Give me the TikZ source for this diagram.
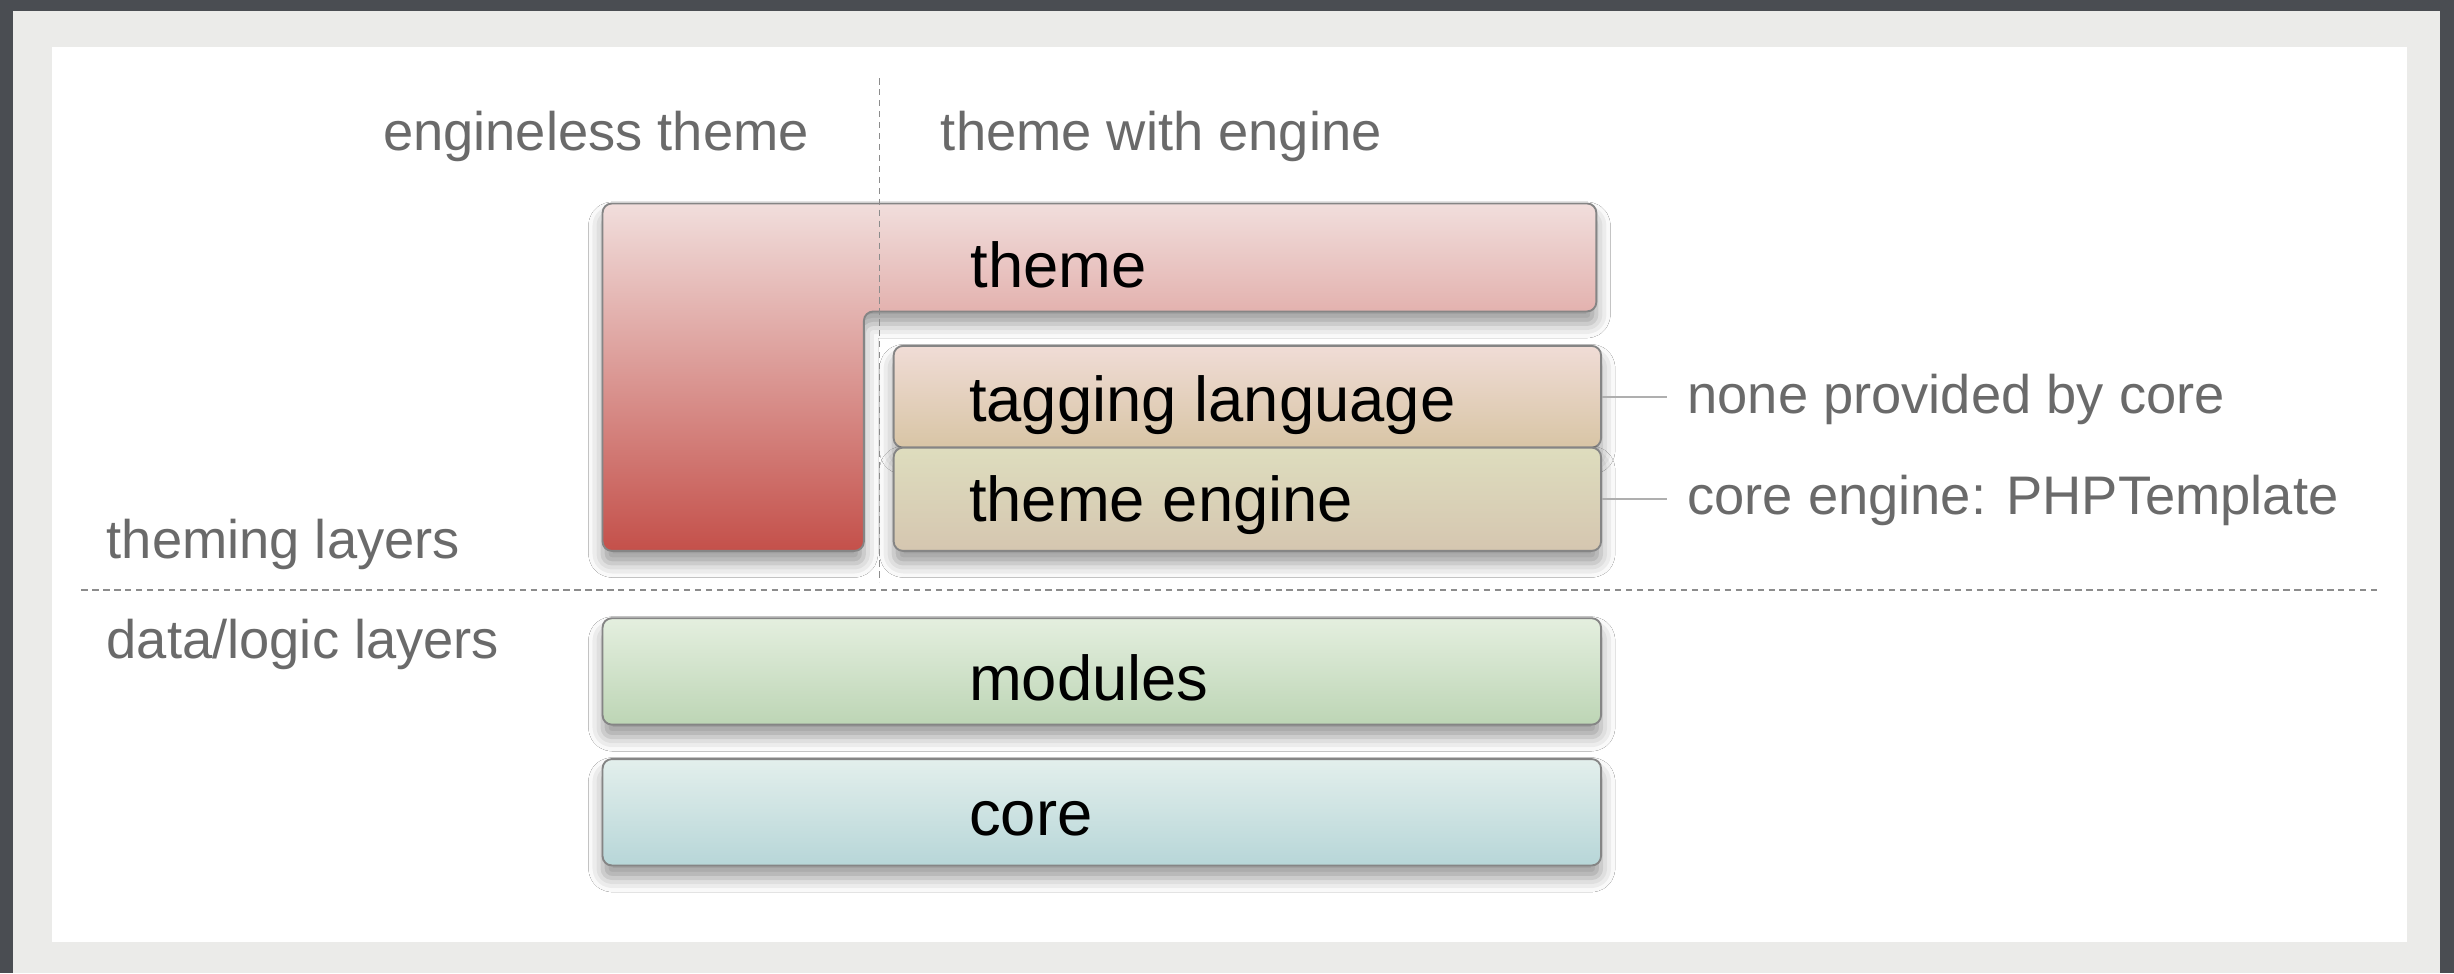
\documentclass[tikz,border=0pt]{standalone}
\usepackage{fontspec}
\setmainfont{Liberation Sans}
\usetikzlibrary{shadows.blur}
\definecolor{framedark}{HTML}{4A4D52}
\definecolor{framelight}{HTML}{EBEBE9}
\definecolor{boxline}{HTML}{858585}
\definecolor{lblgray}{HTML}{6A6A6A}
\definecolor{dashgray}{HTML}{8C8C8C}
\definecolor{leadgray}{HTML}{AFAFAF}
\definecolor{themetop}{HTML}{F1DEDC}
\definecolor{themebot}{HTML}{C4504A}
\definecolor{tagtop}{HTML}{F0DCD6}
\definecolor{tagbot}{HTML}{D8C5A5}
\definecolor{engtop}{HTML}{DEDDBE}
\definecolor{engbot}{HTML}{D5C6B0}
\definecolor{modtop}{HTML}{E4EFDF}
\definecolor{modbot}{HTML}{BDD5B5}
\definecolor{coretop}{HTML}{E3EFEC}
\definecolor{corebot}{HTML}{B7D6D8}
\begin{document}
\begin{tikzpicture}[x=1pt,y=-1pt,
  box/.style={draw=boxline, line width=1.2pt, rounded corners=6pt, inner sep=0pt,
    blur shadow={shadow xshift=0pt, shadow yshift=-8pt, shadow blur radius=9pt, shadow opacity=40}},
  lbl/.style={text=lblgray, font=\fontsize{34.7}{40}\selectfont, inner sep=0pt},
  btxt/.style={text=black, font=\fontsize{40.5}{48}\selectfont, inner sep=0pt},
  dashline/.style={draw=dashgray, line width=1pt, dash pattern=on 4pt off 3pt},
  leader/.style={draw=leadgray, line width=1pt},
]
\useasboundingbox (0,0) rectangle (1568,622);
% frames
\fill[framedark] (0,0) rectangle (1568,622);
\fill[framelight] (8,7) rectangle (1559,622);
\fill[white] (33,30) rectangle (1538,602);

% theme L-shape
\path[box, top color=themetop, bottom color=themebot]
  (385,130) -- (1020,130) -- (1020,199) -- (552,199) -- (552,352) -- (385,352) -- cycle;
\node[btxt, anchor=west] (themetxt) at (620,169) {theme};

% tagging language and theme engine
\node[box, top color=tagtop, bottom color=tagbot, minimum width=452pt, minimum height=65pt] (tag) at (797,253.5) {};
\node[box, top color=engtop, bottom color=engbot, minimum width=452pt, minimum height=66pt] (eng) at (797,319) {};
\node[btxt, anchor=west] (tagtxt) at (619,259) {tagging language};
\node[btxt, anchor=west] (engtxt) at (619,323) {theme engine};

% modules and core
\node[box, top color=modtop, bottom color=modbot, minimum width=638pt, minimum height=68pt] (mod) at (704,429) {};
\node[box, top color=coretop, bottom color=corebot, minimum width=638pt, minimum height=68pt] (core) at (704,519) {};
\node[btxt, anchor=west] (modtxt) at (619,433) {modules};
\node[btxt, anchor=west] (coretxt) at (619,523) {core};

% labels
\node[lbl, anchor=east] (engless) at (517,87) {engineless theme};
\node[lbl, anchor=west] (withengine) at (601,87) {theme with engine};
\node[lbl, anchor=west] (nonelbl) at (1078,255) {none provided by core};
\node[lbl, anchor=west] (corelbl) at (1078,320) {core engine: PHPTemplate};
\node[lbl, anchor=west] (theminglbl) at (68,348) {theming layers};
\node[lbl, anchor=west] (datalbl) at (68,412) {data/logic layers};

% leaders
\draw[leader] (tag.east) -- ([xshift=-13pt]tag.east -| nonelbl.west);
\draw[leader] (eng.east) -- ([xshift=-13pt]eng.east -| corelbl.west);

% dashed separators
\coordinate (vtop) at (562,50);
\coordinate (vbot) at (562,372);
\coordinate (hleft) at (52,377);
\coordinate (hright) at (1520,377);
\draw[dashline] (vtop) -- (vbot);
\draw[dashline] (hleft) -- (hright);
\end{tikzpicture}
\end{document}
